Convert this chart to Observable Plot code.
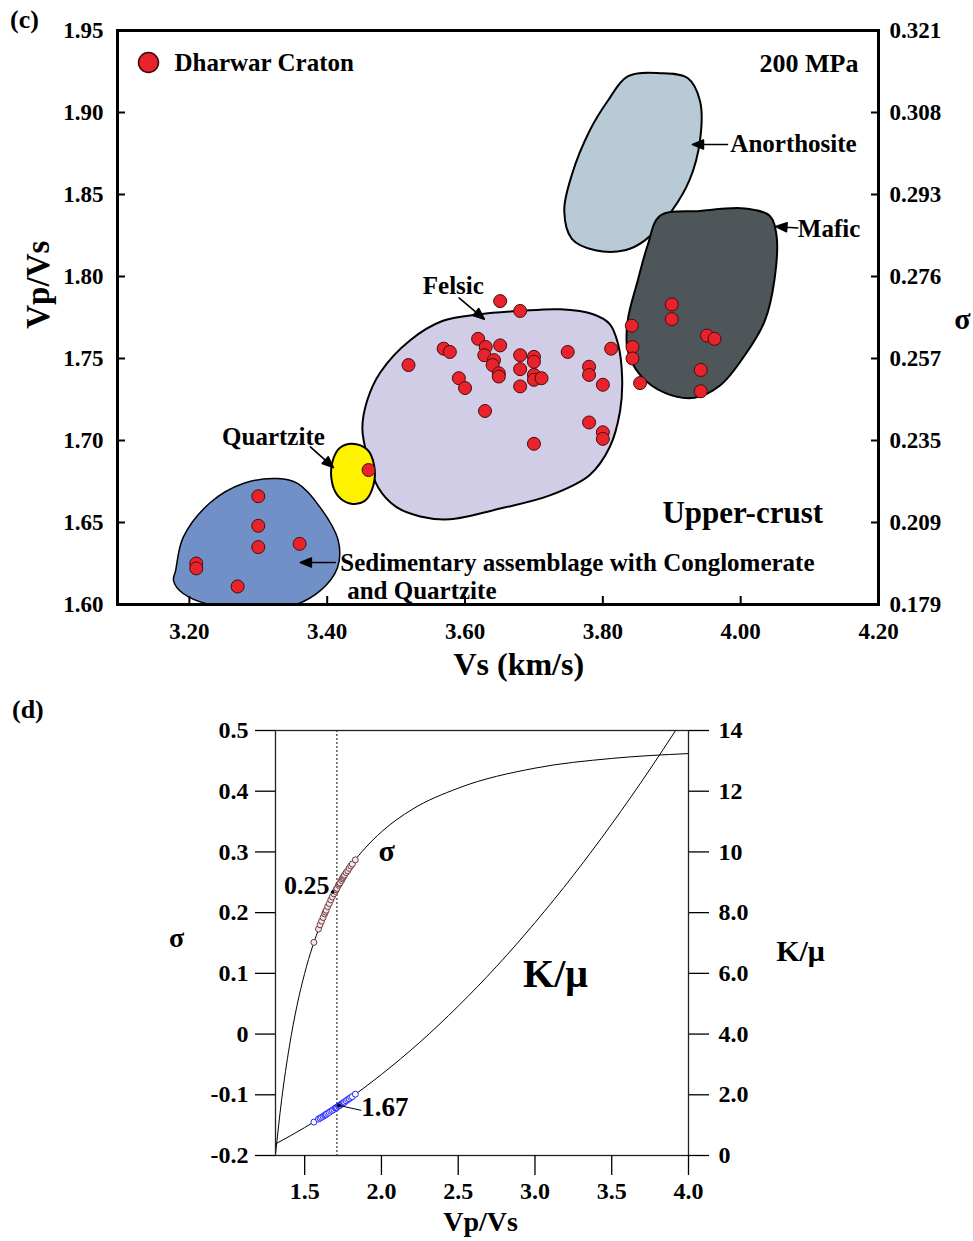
<!DOCTYPE html>
<html><head><meta charset="utf-8">
<script src="https://cdn.jsdelivr.net/npm/d3@7"></script>
<script src="https://cdn.jsdelivr.net/npm/@observablehq/plot@0.6"></script>
<style>
body{margin:0;background:#fff;}
#wrap{position:relative;width:973px;height:1241px;overflow:hidden;font-family:"Liberation Serif","Times New Roman",serif;}
.panel{position:absolute;left:0;}
.plabel{position:absolute;font-weight:bold;font-size:26px;line-height:1;}
</style></head><body>
<div id="wrap">
<div id="c" class="panel" style="top:0"></div>
<div id="d" class="panel" style="top:690px"></div>
<div class="plabel" style="left:10px;top:7px">(c)</div>
<div class="plabel" style="left:12px;top:697px">(d)</div>
</div>
<script>
// ---------- Panel (c) data ----------
const vsKm = [3.21,3.21,3.30,3.30,3.30,3.36,3.27,
  3.46,
  3.651,3.680,3.619,3.630,3.651,3.569,3.578,3.628,3.642,3.640,3.680,3.700,3.700,3.749,3.812,3.518,3.649,3.649,3.680,3.700,3.700,3.711,3.591,3.600,3.680,3.780,3.780,3.800,3.629,3.780,3.800,3.800,3.700,3.842,3.843,3.843,3.854,
  3.900,3.900,3.951,3.962,3.942,3.942];
const vpvsC = [1.625,1.622,1.666,1.648,1.635,1.637,1.611,
  1.682,
  1.785,1.779,1.762,1.757,1.758,1.756,1.754,1.752,1.749,1.746,1.752,1.751,1.748,1.754,1.756,1.746,1.741,1.739,1.7435,1.740,1.737,1.738,1.738,1.732,1.733,1.745,1.740,1.734,1.718,1.711,1.705,1.701,1.698,1.770,1.757,1.750,1.735,
  1.783,1.774,1.764,1.762,1.743,1.730];

const yTicksC = [1.60,1.65,1.70,1.75,1.80,1.85,1.90,1.95];
const xTicksC = [3.20,3.40,3.60,3.80,4.00,4.20];
const sigmaTickLabelsC = ["0.179","0.209","0.235","0.257","0.276","0.293","0.308","0.321"];

// region outlines (Vs, Vp/Vs)
const anorthosite = [[3.836,1.922],[3.883,1.924],[3.923,1.921],[3.941,1.907],[3.941,1.883],[3.926,1.859],[3.900,1.840],[3.861,1.822],[3.832,1.816],[3.789,1.816],[3.755,1.823],[3.744,1.840],[3.755,1.862],[3.781,1.889],[3.807,1.907]];
const mafic = [[3.883,1.837],[3.941,1.840],[4.006,1.8415],[4.042,1.837],[4.052,1.825],[4.049,1.798],[4.035,1.773],[4.006,1.752],[3.970,1.7335],[3.933,1.726],[3.890,1.729],[3.854,1.740],[3.836,1.755],[3.836,1.773],[3.851,1.798],[3.865,1.819]];
const felsic = [[3.477,1.7415],[3.520,1.761],[3.568,1.773],[3.622,1.777],[3.680,1.779],[3.738,1.780],[3.786,1.777],[3.810,1.771],[3.822,1.759],[3.828,1.738],[3.825,1.718],[3.810,1.696],[3.781,1.679],[3.723,1.6665],[3.651,1.6585],[3.578,1.652],[3.535,1.6537],[3.499,1.6598],[3.474,1.6713],[3.459,1.689],[3.451,1.7073],[3.458,1.7244]];
const quartzite = [[3.436,1.698],[3.458,1.6945],[3.468,1.685],[3.467,1.6726],[3.454,1.663],[3.433,1.6616],[3.415,1.6665],[3.406,1.677],[3.409,1.689],[3.419,1.6957]];
const sedimentary = [[3.177,1.6146],[3.180,1.6207],[3.191,1.6409],[3.2305,1.6622],[3.278,1.6738],[3.328,1.6768],[3.357,1.6738],[3.390,1.6591],[3.416,1.639],[3.415,1.6226],[3.390,1.6085],[3.346,1.5990],[3.241,1.5990],[3.191,1.6067]];
const regionNames = ["Anorthosite","Mafic","Felsic","Quartzite","Sedimentary"];
const regionShapes = [anorthosite, mafic, felsic, quartzite, sedimentary];
const regionColors = ["#b9cad7","#4f5659","#d2cde6","#fff200","#7290c8"];

// annotation labels (centred ones, then left-aligned ones)
const centredTexts = ["Felsic","Quartzite"];
const centredX = [3.583,3.322];
const centredY = [1.794,1.702];
const startTexts = ["Anorthosite","Mafic","Sedimentary assemblage with Conglomerate","and Quartzite"];
const startX = [3.985,4.083,3.419,3.429];
const startY = [1.8805,1.829,1.6256,1.6085];
// arrows: tip position, direction (deg, clockwise from up), length (px)
const arrowTipX = [3.628,3.409,3.930,4.051,3.361];
const arrowTipY = [1.774,1.6835,1.8805,1.8305,1.6256];
const arrowDir = [130,132,-90,-86,-90];
const arrowLen = [33,31,35,22,35];

// ---------- Panel (d) data ----------
const sigmaCurveR = [1.31,1.35,1.40,1.45,1.50,1.60,1.70,1.80,1.90,2.00,2.20,2.50,3.00,3.50,4.00];
const sigmaCurveS = [-0.198,-0.108,-0.021,0.047,0.100,0.179,0.235,0.277,0.308,0.333,0.370,0.405,0.438,0.454,0.462];
const kmuCurveR = [1.31,1.50,1.75,2.00,2.25,2.50,2.75,3.00,3.25,3.50,3.75,3.92];
const kmuCurveK = [0.38,0.92,1.73,2.67,3.73,4.92,6.23,7.67,9.23,10.92,12.73,14.03];
const vpvsD = [1.56,1.59,1.60,1.61,1.62,1.63,1.635,1.64,1.65,1.66,1.67,1.68,1.69,1.70,1.705,1.71,1.72,1.725,1.73,1.74,1.745,1.75,1.755,1.76,1.77,1.78,1.79,1.80,1.81,1.83];
const sigmaD = [0.151,0.173,0.180,0.186,0.192,0.198,0.201,0.204,0.210,0.215,0.221,0.226,0.231,0.235,0.238,0.240,0.245,0.247,0.249,0.253,0.256,0.258,0.260,0.262,0.266,0.269,0.273,0.277,0.280,0.287];
const kmuD = [1.10,1.20,1.23,1.26,1.29,1.32,1.34,1.36,1.39,1.42,1.46,1.49,1.52,1.56,1.57,1.59,1.63,1.64,1.66,1.69,1.71,1.73,1.75,1.76,1.80,1.84,1.87,1.91,1.94,2.02];
const dottedVpVs = 1.71;
const sigmaTicksD = [-0.2,-0.1,0,0.1,0.2,0.3,0.4,0.5];
const kmuTickLabels = ["0","2.0","4.0","6.0","8.0","10","12","14"];
const xTicksD = [1.5,2.0,2.5,3.0,3.5,4.0];

// ---------- build ----------
const font = "'Liberation Serif','Times New Roman',serif";
const pts = vsKm.map((v,i)=>({vs:v, vpvs:vpvsC[i]}));
const centred = centredTexts.map((t,i)=>({t, x:centredX[i], y:centredY[i]}));
const starts = startTexts.map((t,i)=>({t, x:startX[i], y:startY[i]}));
const arrows = arrowTipX.map((x,i)=>({x, y:arrowTipY[i], r:arrowDir[i], l:arrowLen[i]}));
const filledArrow = {draw(ctx, l){ const h=11, w=4.5; ctx.moveTo(0,0); ctx.lineTo(0,-l+h); ctx.moveTo(0,-l); ctx.lineTo(-w,-l+h); ctx.lineTo(w,-l+h); ctx.closePath(); }};

const plotC = Plot.plot({
  width: 973, height: 690,
  marginLeft: 117, marginRight: 95, marginTop: 30, marginBottom: 86,
  style: {fontFamily: font, fontSize: "23px", fontWeight: "bold", color: "#000", background: "transparent", overflow: "visible"},
  x: {domain: [3.0957, 4.2]},
  y: {domain: [1.60, 1.95]},
  length: {type: "identity"},
  marks: [
    ...regionShapes.map((s,i)=>Plot.line(s, {x: d=>d[0], y: d=>d[1], curve: "catmull-rom-closed", fill: regionColors[i], stroke: "#000", strokeWidth: i===4 ? 1.5 : 2, clip: true})),
    Plot.dot(pts, {x: "vs", y: "vpvs", r: 6.5, fill: "#e8232b", stroke: "#4a0c0c", strokeWidth: 1}),
    Plot.vector(arrows, {x: "x", y: "y", rotate: "r", length: "l", anchor: "end", shape: filledArrow, stroke: "#000", fill: "#000", strokeWidth: 1.6}),
    Plot.text(centred, {x: "x", y: "y", text: "t", textAnchor: "middle", fontSize: 25}),
    Plot.text(starts, {x: "x", y: "y", text: "t", textAnchor: "start", fontSize: 25}),
    Plot.text(["Upper-crust"], {x: 4.003, y: 1.656, fontSize: 31}),
    Plot.text(["200 MPa"], {frameAnchor: "top-right", dx: -20, dy: 33, textAnchor: "end", lineAnchor: "middle", fontSize: 26}),
    Plot.dot([0], {frameAnchor: "top-left", dx: 31, dy: 32, r: 10, fill: "#e8232b", stroke: "#3a0a0a", strokeWidth: 1.5}),
    Plot.text(["Dharwar Craton"], {frameAnchor: "top-left", dx: 57, dy: 32, textAnchor: "start", lineAnchor: "middle", fontSize: 25}),
    Plot.frame({stroke: "#000", strokeWidth: 3}),
    Plot.axisX({ticks: xTicksC, tickFormat: d=>d.toFixed(2), tickSize: -8, tickPadding: 26, strokeWidth: 2, label: null}),
    Plot.axisY({ticks: yTicksC, tickFormat: d=>d.toFixed(2), tickSize: -8, tickPadding: 22, strokeWidth: 2, label: null}),
    Plot.axisY({anchor: "right", ticks: yTicksC, tickFormat: d=>sigmaTickLabelsC[yTicksC.findIndex(t=>Math.abs(t-d)<1e-6)], tickSize: -8, tickPadding: 19, strokeWidth: 2, label: null}),
    Plot.text(["Vp/Vs"], {frameAnchor: "left", y: 1.795, dx: -79, rotate: -90, textAnchor: "middle", lineAnchor: "middle", fontSize: 33}),
    Plot.text(["Vs (km/s)"], {frameAnchor: "bottom", x: 3.678, dy: 60, lineAnchor: "middle", fontSize: 32}),
    Plot.text(["σ"], {frameAnchor: "right", y: 1.774, dx: 84, textAnchor: "middle", lineAnchor: "middle", fontSize: 30})
  ]
});
document.getElementById("c").appendChild(plotC);

const sigmaCurve = sigmaCurveR.map((r,i)=>({r, s:sigmaCurveS[i]}));
const kmuCurve = kmuCurveR.map((r,i)=>({r, k:kmuCurveK[i]}));
const ptsD = vpvsD.map((r,i)=>({r, s:sigmaD[i], k:kmuD[i]}));
const kToS = k => (k - 4) / 20; // secondary K/μ axis: 0..14 ↔ σ -0.2..0.5

const plotD = Plot.plot({
  width: 973, height: 551,
  marginLeft: 275, marginRight: 285, marginTop: 40, marginBottom: 86,
  style: {fontFamily: font, fontSize: "24px", fontWeight: "bold", color: "#000", background: "transparent", overflow: "visible"},
  x: {domain: [1.31, 4.0]},
  y: {domain: [-0.2, 0.5]},
  marks: [
    Plot.ruleX([dottedVpVs], {stroke: "#000", strokeWidth: 1, strokeDasharray: "2,2"}),
    Plot.line(sigmaCurve, {x: "r", y: "s", curve: "monotone-x", stroke: "#000", strokeWidth: 1, clip: true}),
    Plot.line(kmuCurve, {x: "r", y: d=>kToS(d.k), curve: "monotone-x", stroke: "#000", strokeWidth: 1, clip: true}),
    Plot.dot(ptsD, {x: "r", y: "s", r: 3, stroke: "#6e3a42", fill: "#f3e6e8", strokeWidth: 1}),
    Plot.dot(ptsD, {x: "r", y: d=>kToS(d.k), r: 3, stroke: "#2424ff", fill: "#ffffff", strokeWidth: 1}),
    Plot.link([{x1: 1.723, y1: -0.1175, x2: 1.869, y2: -0.1257}], {x1: "x1", y1: "y1", x2: "x2", y2: "y2", stroke: "#000", strokeWidth: 1}),
    Plot.dot([{x: 1.723, y: -0.1175}, {x: 1.682, y: 0.234}], {x: "x", y: "y", r: 1.8, fill: "#000"}),
    Plot.text(["0.25"], {x: 1.513, y: 0.245, fontSize: 26}),
    Plot.text(["1.67"], {x: 1.869, y: -0.120, textAnchor: "start", fontSize: 27}),
    Plot.text(["σ"], {x: 2.034, y: 0.301, fontSize: 30}),
    Plot.text(["K/μ"], {x: 3.134, y: 0.099, fontSize: 40}),
    Plot.frame({stroke: "#222", strokeWidth: 1.3}),
    Plot.axisX({ticks: xTicksD, tickFormat: d=>d.toFixed(1), tickSize: 20, tickPadding: 6, strokeWidth: 1.3, label: null}),
    Plot.axisY({ticks: sigmaTicksD, tickFormat: d=> Math.abs(d)<1e-9 ? "0" : d.toFixed(1), tickSize: 20, tickPadding: 7, strokeWidth: 1.3, label: null}),
    Plot.axisY({anchor: "right", ticks: sigmaTicksD, tickFormat: d=>kmuTickLabels[sigmaTicksD.findIndex(t=>Math.abs(t-d)<1e-6)], tickSize: 20, tickPadding: 10, strokeWidth: 1.3, label: null}),
    Plot.text(["σ"], {frameAnchor: "left", y: 0.158, dx: -99, textAnchor: "middle", lineAnchor: "middle", fontSize: 28}),
    Plot.text(["K/μ"], {frameAnchor: "right", y: 0.137, dx: 112, textAnchor: "middle", lineAnchor: "middle", fontSize: 30}),
    Plot.text(["Vp/Vs"], {frameAnchor: "bottom", x: 2.646, dy: 67, lineAnchor: "middle", fontSize: 28})
  ]
});
document.getElementById("d").appendChild(plotD);
</script>
</body></html>
